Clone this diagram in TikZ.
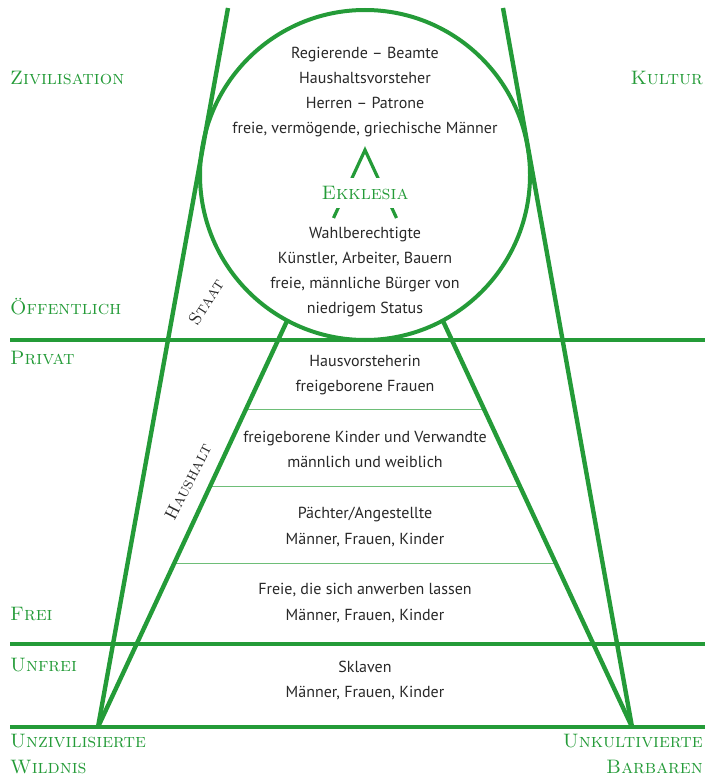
\documentclass[tikz,border=0pt]{standalone}
\usepackage{fontspec}
\usetikzlibrary{calc}
\newfontfamily\bodyf{PT Sans}
\definecolor{grn}{RGB}{36,155,56}
\definecolor{grnl}{RGB}{110,190,120}
\definecolor{txt}{RGB}{40,40,40}
\begin{document}
\begin{tikzpicture}[x=1pt,y=-1pt,
  thickline/.style={draw=grn,line width=4.4pt},
  thinline/.style={draw=grnl,line width=1.3pt},
  lab/.style={text=grn,font=\fontsize{19.5}{21}\selectfont\scshape,inner sep=0pt},
  side/.style={text=txt,font=\fontsize{17.5}{19}\selectfont\scshape,inner sep=0pt},
  body/.style={text=txt,font=\bodyf\fontsize{16}{18}\selectfont,inner sep=0pt,anchor=base}]
\useasboundingbox (0,0) rectangle (705,778);
% coordinates
\coordinate (olt) at (228,8);
\coordinate (olb) at (98,727);
\coordinate (ort) at (503,8);
\coordinate (orb) at (632,727);
\coordinate (ilt) at (287,321);
\coordinate (irt) at (443,321);
\coordinate (hl1) at (10,340);
\coordinate (hr1) at (705,340);
\coordinate (hl2) at (10,644);
\coordinate (hr2) at (705,644);
\coordinate (hl3) at (10,727);
\coordinate (hr3) at (705,727);
% thin lines inside triangle
\foreach \t in {0.2178,0.4084,0.5965}{
  \draw[thinline] ($(ilt)!\t!(olb)$) -- ($(irt)!\t!(orb)$);
}
% main lines
\draw[thickline] (olt) -- (olb);
\draw[thickline] (ort) -- (orb);
\draw[thickline] (ilt) -- (olb);
\draw[thickline] (irt) -- (orb);
\draw[thickline] (hl1) -- (hr1);
\draw[thickline] (hl2) -- (hr2);
\draw[thickline] (hl3) -- (hr3);
\node[draw=grn,line width=4pt,circle,minimum size=330pt,inner sep=0pt] (circ) at (365,175) {};
% Lambda
\coordinate (apex) at (365,150);
\coordinate (lamL) at (333.5,218);
\coordinate (lamR) at (396.5,218);
\draw[draw=grn,line width=3.2pt] (lamL) -- (apex) -- (lamR);
\node[lab,fill=white,minimum height=30pt,minimum width=92pt] (ekk) at (365,193) {Ekklesia};
% circle texts
\node[body] (c1) at (365,59) {Regierende – Beamte};
\node[body] (c2) at (365,84) {Haushaltsvorsteher};
\node[body] (c3) at (365,109) {Herren – Patrone};
\node[body] (c4) at (365,134) {freie, vermögende, griechische Männer};
\node[body] (c5) at (365,238) {Wahlberechtigte};
\node[body] (c6) at (365,263) {Künstler, Arbeiter, Bauern};
\node[body] (c7) at (365,288) {freie, männliche Bürger von};
\node[body] (c8) at (365,313) {niedrigem Status};
% triangle texts
\node[body] (t1) at (365,366) {Hausvorsteherin};
\node[body] (t2) at (365,391) {freigeborene Frauen};
\node[body] (t3) at (365,442) {freigeborene Kinder und Verwandte};
\node[body] (t4) at (365,467) {männlich und weiblich};
\node[body] (t5) at (365,518) {Pächter/Angestellte};
\node[body] (t6) at (365,544) {Männer, Frauen, Kinder};
\node[body] (t7) at (365,594) {Freie, die sich anwerben lassen};
\node[body] (t8) at (365,620) {Männer, Frauen, Kinder};
\node[body] (t9) at (365,672) {Sklaven};
\node[body] (t10) at (365,697) {Männer, Frauen, Kinder};
% side labels
\node[side,rotate=57] (staat) at (206,302) {Staat};
\node[side,rotate=63] (haus) at (188,482) {Haushalt};
% outer labels
\node[lab,anchor=base west] (l1) at (10,85) {Zivilisation};
\node[lab,anchor=base east] (r1) at (703,85) {Kultur};
\node[lab,anchor=base west] (l2) at (10,314) {Öffentlich};
\node[lab,anchor=base west] (l3) at (10,364) {Privat};
\node[lab,anchor=base west] (l4) at (10,620) {Frei};
\node[lab,anchor=base west] (l5) at (10,671) {Unfrei};
\node[lab,anchor=base west] (l6) at (10,747) {Unzivilisierte};
\node[lab,anchor=base west] (l7) at (10,773) {Wildnis};
\node[lab,anchor=base east] (r2) at (703,747) {Unkultivierte};
\node[lab,anchor=base east] (r3) at (703,773) {Barbaren};
\end{tikzpicture}
\end{document}
